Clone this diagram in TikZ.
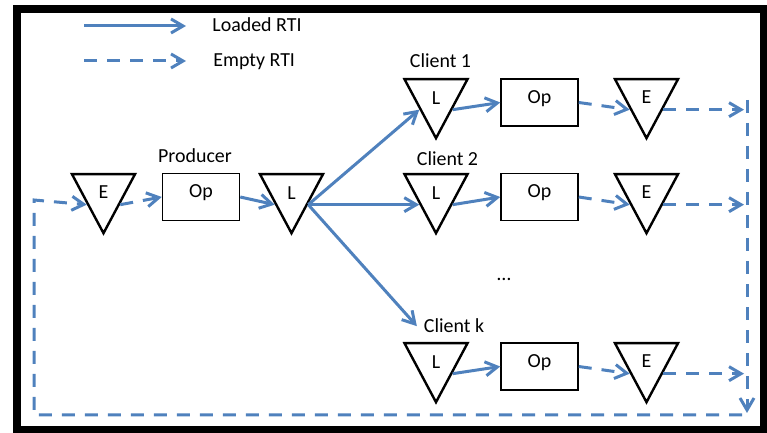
\documentclass[tikz,border=0pt]{standalone}
\usepackage{fontspec}
\setmainfont{Carlito}
\usetikzlibrary{shapes.geometric,arrows.meta}
\definecolor{rtiblue}{RGB}{79,129,189}

\begin{document}
\begin{tikzpicture}[x=0.5bp,y=-0.5bp,
  tri/.style={draw,line width=1.2bp,isosceles triangle,isosceles triangle stretches,
    shape border rotate=270,minimum width=31.5bp,minimum height=29.5bp,inner sep=0pt,anchor=lower side},
  opbox/.style={draw,line width=0.75bp,minimum width=38.5bp,minimum height=23.5bp,text depth=5.5bp,inner sep=0pt},
  loaded/.style={rtiblue,line width=1.5bp,-{Straight Barb[length=6bp,width=7bp]}},
  empty/.style={loaded,dash pattern=on 6.5bp off 5bp}]
\useasboundingbox (0,0) rectangle (767,433);
\draw[line width=4bp] (17,9) rectangle (764,430);

\coordinate (leg1a) at (84,26);
\coordinate (leg1b) at (186,26);
\coordinate (leg2a) at (84,61);
\coordinate (leg2b) at (186,61);
\draw[loaded] (leg1a) -- (leg1b);
\draw[empty] (leg2a) -- (leg2b);
\node[anchor=base west,inner sep=0pt] (legL) at (212,32) {Loaded RTI};
\node[anchor=base west,inner sep=0pt] (legE) at (213,67) {Empty RTI};

\node[tri] (eP) at (103.5,173) {E};
\node[opbox] (opP) at (201,197) {Op};
\node[tri] (lP) at (291.5,173) {L};
\node[anchor=base] (prod) at (195,163) {Producer};

\node[tri] (l1) at (436,78) {L};
\node[opbox] (op1) at (539.5,102.5) {Op};
\node[tri] (e1) at (646.5,78) {E};
\node[anchor=base] (c1) at (440.5,68) {Client 1};

\node[tri] (l2) at (436,173) {L};
\node[opbox] (op2) at (539.5,197) {Op};
\node[tri] (e2) at (646.5,173) {E};
\node[anchor=base] (c2) at (447.5,166) {Client 2};

\node[anchor=base] (dots) at (504,281) {\dots};

\node[tri] (lk) at (436,342) {L};
\node[opbox] (opk) at (539.5,366.5) {Op};
\node[tri] (ek) at (646.5,342) {E};
\node[anchor=base] (ck) at (454,333) {Client k};

\coordinate (rx) at (744,0);
\coordinate (rTop) at (747,100);
\coordinate (rBot) at (747,413);
\coordinate (bR) at (742,415);
\coordinate (bL) at (34,415);
\coordinate (lT) at (34,200);

\draw[empty] (bR) -- (bL) -- (lT) -- (eP.right side);
\draw[empty] (eP.left side) -- (opP.west);
\draw[loaded] (opP.east) -- (lP.right side);
\draw[loaded] (lP.left side) -- (l1.right side);
\draw[loaded] (lP.left side) -- (l2.right side);
\draw[loaded] (lP.left side) -- (ck.west);
\foreach \r in {1,2,k}{
  \draw[loaded] (l\r.left side) -- (op\r.west);
  \draw[empty] (op\r.east) -- (e\r.right side);
  \draw[empty] (e\r.left side) -- (e\r.left side -| rx);
}
\draw[empty] (rTop) -- (rBot);
\end{tikzpicture}
\end{document}
